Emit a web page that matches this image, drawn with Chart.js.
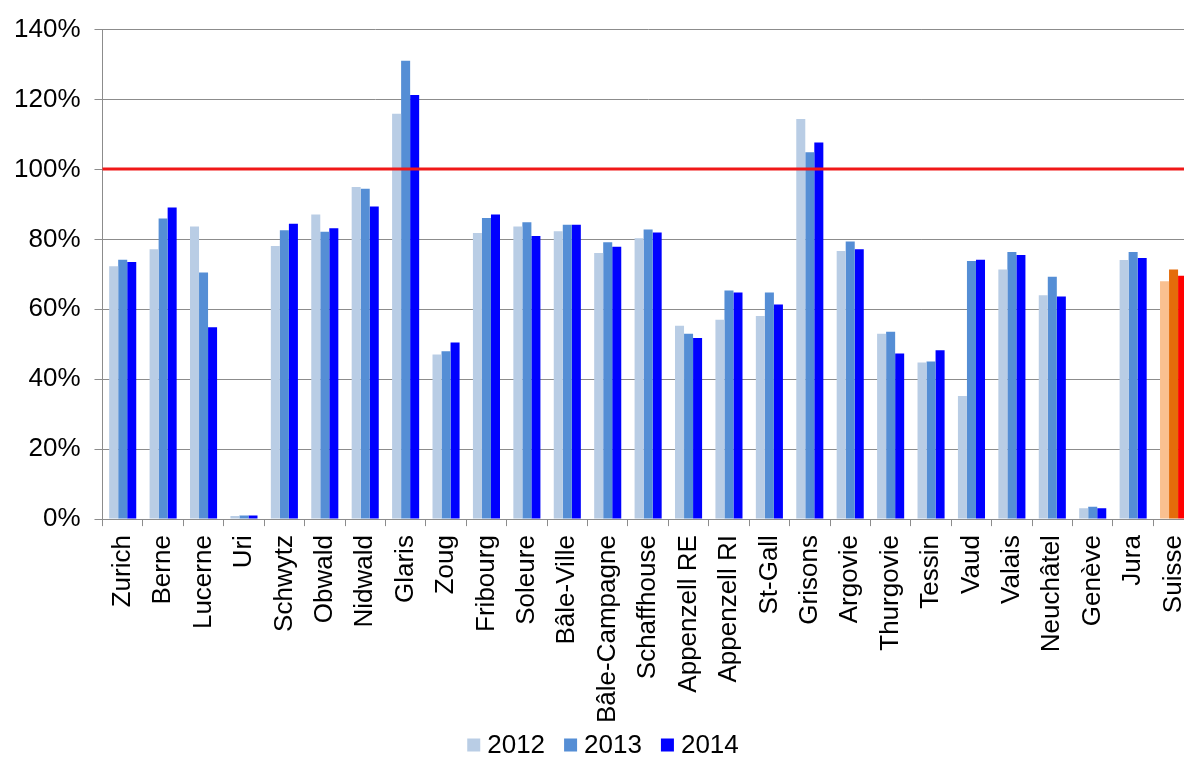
<!DOCTYPE html>
<html>
<head>
<meta charset="utf-8">
<title>Taux par canton 2012–2014</title>
<script src="https://cdn.jsdelivr.net/npm/chart.js@4/dist/chart.umd.min.js"></script>
<style>
  html, body { margin: 0; padding: 0; background: #fff; overflow: hidden; }
  #wrap { position: relative; width: 1214px; height: 758px; }
</style>
</head>
<body>
<div id="wrap"><canvas id="chart"></canvas></div>
<script>
// Cantons (plus the national total, drawn in warm colours)
const categories = [
  'Zurich', 'Berne', 'Lucerne', 'Uri', 'Schwytz', 'Obwald', 'Nidwald', 'Glaris',
  'Zoug', 'Fribourg', 'Soleure', 'Bâle-Ville', 'Bâle-Campagne', 'Schaffhouse',
  'Appenzell RE', 'Appenzell RI', 'St-Gall', 'Grisons', 'Argovie', 'Thurgovie',
  'Tessin', 'Vaud', 'Valais', 'Neuchâtel', 'Genève', 'Jura', 'Suisse'
];

// Percentages per year
const values2012 = [72.3, 77.2, 83.7, 0.9, 78.1, 87.1, 95.0, 115.9,
  47.1, 81.8, 83.7, 82.3, 76.1, 80.3,
  55.3, 57.0, 58.1, 114.4, 76.7, 53.0,
  44.8, 35.2, 71.4, 64.0, 3.1, 74.1, 68.0];
const values2013 = [74.2, 86.0, 70.5, 1.0, 82.6, 82.2, 94.5, 131.1,
  48.0, 86.1, 84.9, 84.2, 79.2, 82.8,
  53.0, 65.4, 64.8, 104.9, 79.4, 53.6,
  45.1, 73.8, 76.4, 69.3, 3.5, 76.4, 71.4];
const values2014 = [73.5, 89.1, 54.9, 1.0, 84.5, 83.2, 89.4, 121.3,
  50.5, 87.1, 81.0, 84.2, 77.9, 82.0,
  51.8, 64.8, 61.4, 107.7, 77.2, 47.4,
  48.3, 74.2, 75.5, 63.7, 3.1, 74.7, 69.6];

const seriesNames = ['2012', '2013', '2014'];
const yTicks = [0, 20, 40, 60, 80, 100, 120, 140];
const targetLevel = 100;

const cantonColors = ['#B9CDE5', '#558ED5', '#0000FF'];
const totalColors  = ['#FAC090', '#E46C0A', '#FF0000'];
const totalLabel = 'Suisse';

const FONT = '"Liberation Sans", Arial, sans-serif';

// Horizontal reference line at the target level
const targetLine = {
  id: 'targetLine',
  afterDatasetsDraw(chart) {
    const { ctx, chartArea, scales } = chart;
    const y = Math.round(scales.y.getPixelForValue(targetLevel));
    ctx.save();
    ctx.strokeStyle = '#F01818';
    ctx.lineWidth = 3;
    ctx.beginPath();
    ctx.moveTo(chartArea.left, y);
    ctx.lineTo(chartArea.right, y);
    ctx.stroke();
    ctx.restore();
  }
};

// Compact series key along the bottom edge: square swatch, small gap, year
const seriesKey = {
  id: 'seriesKey',
  afterDraw(chart) {
    const { ctx, height } = chart;
    const box = 13, gapText = 7, gapItem = 19;
    const centerX = 603;
    ctx.save();
    ctx.font = '26px ' + FONT;
    ctx.textBaseline = 'middle';
    ctx.textAlign = 'left';
    const widths = chart.data.datasets.map(ds => ctx.measureText(ds.label).width);
    const total = widths.reduce((s, w) => s + box + gapText + w, 0) + gapItem * (widths.length - 1);
    let x = centerX - total / 2;
    const cy = height - 13;
    chart.data.datasets.forEach((ds, i) => {
      ctx.fillStyle = cantonColors[i];
      ctx.fillRect(x, cy - box / 2, box, box);
      x += box + gapText;
      ctx.fillStyle = '#000';
      ctx.fillText(ds.label, x, cy + 1);
      x += widths[i] + gapItem;
    });
    ctx.restore();
  }
};

function barColor(series) {
  return (ctx) => {
    if (ctx.dataIndex !== undefined && categories[ctx.dataIndex] === totalLabel) {
      return totalColors[series];
    }
    return cantonColors[series];
  };
}

const allValues = [values2012, values2013, values2014];

new Chart(document.getElementById('chart'), {
  type: 'bar',
  data: {
    labels: categories,
    datasets: allValues.map((vals, i) => ({
      label: seriesNames[i],
      data: vals,
      backgroundColor: barColor(i),
      borderWidth: 0,
      barPercentage: 1.0,
      categoryPercentage: 0.67
    }))
  },
  options: {
    responsive: true,
    maintainAspectRatio: false,
    animation: false,
    layout: { padding: { left: 0, right: 13, top: 11, bottom: 26 } },
    plugins: {
      tooltip: { enabled: false },
      legend: { display: false }
    },
    scales: {
      x: {
        offset: true,
        grid: {
          offset: true,
          drawOnChartArea: false,
          drawTicks: true,
          tickLength: 7,
          color: '#8C8C8C'
        },
        border: { color: '#8C8C8C', width: 1 },
        ticks: {
          color: '#000',
          font: { family: FONT, size: 26 },
          minRotation: 90,
          maxRotation: 90,
          autoSkip: false,
          padding: 9
        }
      },
      y: {
        min: yTicks[0],
        max: yTicks[yTicks.length - 1],
        afterBuildTicks(scale) {
          scale.ticks = yTicks.map(v => ({ value: v }));
        },
        grid: {
          color: '#8C8C8C',
          tickLength: 8,
          drawTicks: true
        },
        border: { color: '#8C8C8C', width: 1 },
        ticks: {
          color: '#000',
          font: { family: FONT, size: 26 },
          padding: 14,
          callback: (v) => v + '%'
        }
      }
    }
  },
  plugins: [targetLine, seriesKey]
});
</script>
</body>
</html>
